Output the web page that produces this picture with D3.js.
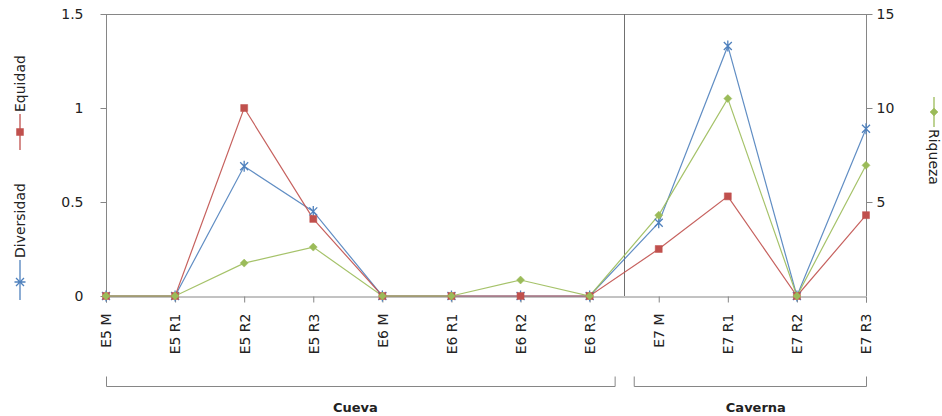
<!DOCTYPE html>
<html><head><meta charset="utf-8">
<script src="https://cdn.jsdelivr.net/npm/d3@7"></script>
<style>body{margin:0;background:#fff}svg{display:block}</style>
</head><body>
<svg id="c" width="942" height="416"></svg>
<script>
const categories = ["E5 M","E5 R1","E5 R2","E5 R3","E6 M","E6 R1","E6 R2","E6 R3","E7 M","E7 R1","E7 R2","E7 R3"];
const diversidad = [0,0,0.69,0.45,0,0,0,0,0.39,1.33,0,0.89];
const equidad    = [0,0,1.0,0.41,0,0,0,0,0.25,0.53,0,0.43];
const riqueza    = [0,0,1.75,2.6,0,0,0.85,0,4.3,10.5,0,6.95];
const leftTicks = [0,0.5,1,1.5];
const rightTicks = [5,10,15];
const groups = [{name:"Cueva",from:"E5 M",to:"E6 R3"},{name:"Caverna",from:"E7 M",to:"E7 R3"}];

const svg = d3.select("#c");
const L=106,R=866,T=14,B=296;
const x = d3.scalePoint().domain(categories).range([L,R]);
const yL = d3.scaleLinear().domain([0,1.5]).range([B,T]);
const yR = d3.scaleLinear().domain([0,15]).range([B,T]);
const axisCol="#868686", font="DejaVu Sans, Verdana, sans-serif";

svg.append("line").attr("x1",L).attr("x2",R).attr("y1",T+0.5).attr("y2",T+0.5).attr("stroke",axisCol);

const sepX = (x("E6 R3")+x("E7 M"))/2;
svg.append("line").attr("x1",Math.round(sepX)+0.5).attr("x2",Math.round(sepX)+0.5).attr("y1",T).attr("y2",B).attr("stroke","#707070");

const gl = svg.append("g").attr("transform",`translate(${L+0.5},0)`)
  .call(d3.axisLeft(yL).tickValues(leftTicks).tickFormat(d3.format("")).tickSize(6).tickPadding(17));
const gr = svg.append("g").attr("transform",`translate(${R+0.5},0)`)
  .call(d3.axisRight(yR).tickValues(rightTicks).tickSize(6).tickPadding(4));
const gb = svg.append("g").attr("transform",`translate(0,${B+0.5})`)
  .call(d3.axisBottom(x).tickSize(6).tickPadding(4));
gr.select(".domain").attr("d",`M0,${T}V${B}`);
gl.select(".domain").attr("d",`M0,${T}V${B}`);
[gl,gr,gb].forEach(g=>{
  g.selectAll(".domain").attr("stroke",axisCol);
  g.selectAll(".tick line").attr("stroke",axisCol);
  g.selectAll("text").attr("fill","#222").style("font-family",font).style("font-size","14px");
});
gb.selectAll(".tick text").attr("transform","rotate(-90)").attr("text-anchor","end")
  .attr("x",-17).attr("y",0).attr("dy","0.35em").style("font-size","14px");

const series = [
  {name:"Diversidad",vals:diversidad,y:yL,color:"#4F81BD",marker:"star"},
  {name:"Equidad",vals:equidad,y:yL,color:"#C0504D",marker:"square"},
  {name:"Riqueza",vals:riqueza,y:yR,color:"#9BBB59",marker:"diamond"}
];
function markerPath(m){
  if(m==="square") return "M-3.5,-3.5H3.5V3.5H-3.5Z";
  if(m==="diamond") return "M0,-4L4,0L0,4L-4,0Z";
  return "M-4,-4L4,4M-4,4L4,-4M0,-5.5V5.5";
}
series.forEach(s=>{
  const line = d3.line().x((d,i)=>x(categories[i])).y(d=>s.y(d));
  svg.append("path").attr("d",line(s.vals)).attr("fill","none").attr("stroke",s.color).attr("stroke-width",1.2).attr("opacity",0.9);
});
series.forEach(s=>{
  svg.append("g").selectAll("path").data(s.vals).join("path")
    .attr("transform",(d,i)=>`translate(${x(categories[i])},${s.y(d)})`)
    .attr("d",markerPath(s.marker))
    .attr("fill",s.marker==="star"?"none":s.color)
    .attr("stroke",s.color).attr("stroke-width",s.marker==="star"?1.3:0.5);
});

function legend(cx, cy, s, rot, len){
  const g = svg.append("g").attr("transform",`translate(${cx},${cy}) rotate(${rot})`);
  g.append("line").attr("x1",0).attr("x2",len).attr("y1",0).attr("y2",0).attr("stroke",s.color).attr("stroke-width",1.3);
  g.append("path").attr("transform",`translate(${rot<0?18:15},0)`).attr("d",markerPath(s.marker))
    .attr("fill",s.marker==="star"?"none":s.color).attr("stroke",s.color).attr("stroke-width",s.marker==="star"?1.3:0.5);
  g.append("text").attr("x",len+2).attr("y",0).attr("dy","0.35em").text(s.name)
    .style("font-family",font).style("font-size","14px").attr("fill","#222");
}
legend(20,150,series[1],-90,36);
legend(20,300,series[0],-90,40);
legend(934,97,series[2],90,30);

groups.forEach((gp,i)=>{
  const x1 = i===0 ? x(gp.from) : x(gp.from)-25;
  const x2 = i===0 ? x(gp.to)+25 : x(gp.to);
  const yb = 386.5;
  svg.append("path").attr("d",`M${x1+0.5},${yb-10}V${yb}H${x2+0.5}V${yb-10}`)
    .attr("fill","none").attr("stroke",axisCol);
  svg.append("text").attr("x",(x1+x2)/2 + (i===0?-5:6)).attr("y",412).attr("text-anchor","middle")
    .style("font-family",font).style("font-size","13px").style("font-weight","bold").attr("fill","#222").text(gp.name);
});
</script>
</body></html>
